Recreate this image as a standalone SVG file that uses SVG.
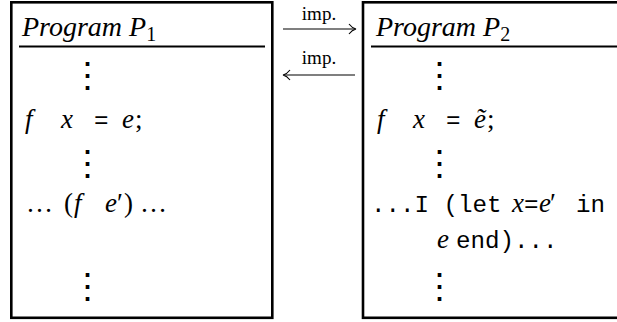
<svg xmlns="http://www.w3.org/2000/svg" width="617" height="322" viewBox="0 0 617 322">
<style>
.box{fill:none;stroke:#000;stroke-width:2.6}
.rule{stroke:#000;stroke-width:2}
.it{font-family:"Liberation Serif","Times New Roman",serif;font-style:italic;font-size:27px;fill:#000}
.rm{font-family:"Liberation Serif","Times New Roman",serif;font-style:normal;font-size:27px;fill:#000}
.tt{font-family:"Liberation Mono","Courier New",monospace;font-style:normal;font-size:24.2px;fill:#000}
.hd{font-family:"Liberation Serif","Times New Roman",serif;font-style:italic;font-size:28px;fill:#000}
.sub{font-family:"Liberation Serif","Times New Roman",serif;font-style:normal;font-size:20px}
.lab{font-family:"Liberation Serif","Times New Roman",serif;font-size:19px;fill:#000}
.vd{font-family:"Noto Sans CJK JP","DejaVu Serif",sans-serif;font-size:35px;fill:#000;text-anchor:middle}
.arr{fill:none;stroke:#000;stroke-width:1.1}
</style>
<g id="program-p1">
<rect class="box" x="11.3" y="2.3" width="261" height="315.5"/>
<line class="rule" x1="19" y1="46.5" x2="265" y2="46.5"/>
<text class="hd" x="22" y="36">Program P<tspan class="sub" dy="5">1</tspan></text>
<text class="vd" x="87" y="87">⋮</text>
<text y="128"><tspan class="it" x="25">f</tspan><tspan class="it" x="61">x</tspan><tspan class="tt" x="94">=</tspan><tspan class="it" x="122">e</tspan><tspan class="rm" x="135">;</tspan></text>
<text class="vd" x="87" y="175">⋮</text>
<text y="212"><tspan class="rm" x="26">…</tspan><tspan class="rm" x="64">(</tspan><tspan class="it" x="74">f</tspan><tspan class="it" x="105">e</tspan><tspan class="rm" x="117">′</tspan><tspan class="rm" x="124">)</tspan><tspan class="rm" x="140">…</tspan></text>
<text class="vd" x="87" y="297.5">⋮</text>
</g>
<g id="program-p2">
<rect class="box" x="363" y="2.3" width="300" height="315.5"/>
<line class="rule" x1="371" y1="46.5" x2="640" y2="46.5"/>
<text class="hd" x="376" y="36">Program P<tspan class="sub" dy="5">2</tspan></text>
<text class="vd" x="439" y="87">⋮</text>
<text y="128"><tspan class="it" x="377">f</tspan><tspan class="it" x="413">x</tspan><tspan class="tt" x="446">=</tspan><tspan class="it" x="474">ẽ</tspan><tspan class="rm" x="487">;</tspan></text>
<text class="vd" x="439" y="175">⋮</text>
<text y="212" xml:space="preserve"><tspan class="tt" x="371">...I (let</tspan><tspan class="it" x="512">x</tspan><tspan class="tt" x="524">=</tspan><tspan class="it" x="539">e</tspan><tspan class="rm" x="550">′</tspan><tspan class="tt" x="576">in</tspan></text>
<text y="248"><tspan class="it" x="437">e</tspan><tspan class="tt" x="456">end)...</tspan></text>
<text class="vd" x="439" y="297.5">⋮</text>
</g>
<g id="connectors">
<text class="lab" x="319" y="20" text-anchor="middle">imp.</text>
<line class="arr" x1="283" y1="29" x2="355" y2="29"/>
<path class="arr" d="M349,24 Q352,28 356,29 Q352,30 349,34"/>
<text class="lab" x="319" y="64" text-anchor="middle">imp.</text>
<line class="arr" x1="284" y1="75" x2="355" y2="75"/>
<path class="arr" d="M290,70 Q287,74 283,75 Q287,76 290,80"/>
</g>
</svg>
